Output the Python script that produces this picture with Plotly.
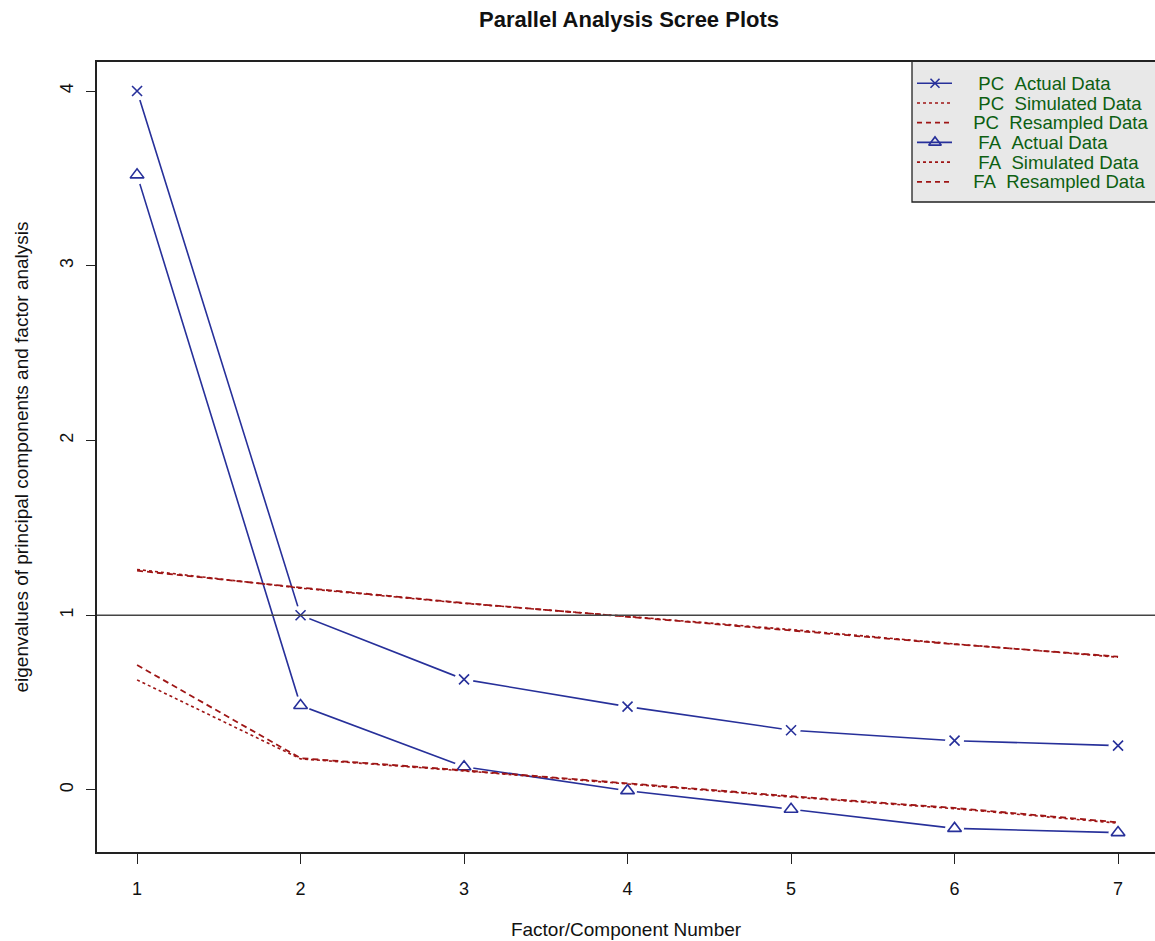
import plotly.graph_objects as go

# Factor / component numbers
factors = [1, 2, 3, 4, 5, 6, 7]

# Eigenvalues of the observed data
pc_actual = [4.00, 1.00, 0.633, 0.477, 0.342, 0.282, 0.254]
fa_actual = [3.52, 0.483, 0.133, -0.004, -0.110, -0.220, -0.244]

# Eigenvalues from simulated and resampled data
pc_simulated = [1.262, 1.155, 1.068, 0.994, 0.918, 0.836, 0.760]
pc_resampled = [1.255, 1.158, 1.070, 0.992, 0.916, 0.834, 0.763]
fa_simulated = [0.630, 0.178, 0.109, 0.036, -0.040, -0.107, -0.190]
fa_resampled = [0.715, 0.182, 0.112, 0.040, -0.036, -0.103, -0.185]

x_ticks = [1, 2, 3, 4, 5, 6, 7]
y_ticks = [0, 1, 2, 3, 4]

legend_labels = ["  PC  Actual Data", "  PC  Simulated Data", " PC  Resampled Data",
                 "  FA  Actual Data", "  FA  Simulated Data", " FA  Resampled Data"]

BLUE = "#27309a"
RED = "#9e1515"
GREEN = "#0d5f12"
FONT = "Liberation Sans, Arial, sans-serif"

# Plot-area geometry (pixels)
W, H = 1155, 941
ML, MR, MT, MB = 97, 0, 62, 89
PW, PH = W - ML - MR, H - MT - MB


def px_x(px):
    return (px - ML) / PW


def px_y(py):
    return (H - MB - py) / PH


fig = go.Figure()

# Observed-data lines, then white halos that open small gaps round each point
for ys in (pc_actual, fa_actual):
    fig.add_trace(go.Scatter(x=factors, y=ys, mode="lines",
                             line=dict(color=BLUE, width=1.6), hoverinfo="skip"))
for ys in (pc_actual, fa_actual):
    fig.add_trace(go.Scatter(x=factors, y=ys, mode="markers",
                             marker=dict(symbol="circle", size=19, color="white", line=dict(width=0)),
                             hoverinfo="skip"))

# Point symbols
fig.add_trace(go.Scatter(x=factors, y=pc_actual, mode="markers",
                         marker=dict(symbol="x-thin-open", size=10, color=BLUE,
                                     line=dict(color=BLUE, width=1.6))))
fig.add_trace(go.Scatter(x=factors, y=fa_actual, mode="markers",
                         marker=dict(symbol="triangle-up-open", size=12, color=BLUE,
                                     line=dict(color=BLUE, width=1.6))))

# Simulated (dotted) and resampled (dashed) eigenvalues
for ys, dash, w in ((pc_simulated, "dot", 1.6), (pc_resampled, "6px,4px", 1.8),
                    (fa_simulated, "dot", 1.6), (fa_resampled, "6px,4px", 1.8)):
    fig.add_trace(go.Scatter(x=factors, y=ys, mode="lines",
                             line=dict(color=RED, width=w, dash=dash)))

# Kaiser criterion reference line at eigenvalue = 1
fig.add_shape(type="line", xref="paper", x0=0, x1=1, yref="y", y0=1, y1=1,
              line=dict(color="#444444", width=1.3), layer="above")

# ---- legend box (top-right) ----
row0, row_step = 83.3, 19.7
fig.add_shape(type="rect", xref="paper", yref="paper",
              x0=px_x(912), x1=px_x(1165), y0=px_y(202), y1=px_y(61),
              fillcolor="#e8e8e8", line=dict(color="#222222", width=1.3), layer="below")

key_styles = [
    (BLUE, "solid", 1.6, "x-thin-open", 9),
    (RED, "dot", 1.6, None, 0),
    (RED, "5px,4px", 1.8, None, 0),
    (BLUE, "solid", 1.6, "triangle-up-open", 11),
    (RED, "dot", 1.6, None, 0),
    (RED, "5px,4px", 1.8, None, 0),
]
for i, (label, (col, dash, lw, sym, msz)) in enumerate(zip(legend_labels, key_styles)):
    yc = px_y(row0 + i * row_step)
    fig.add_shape(type="line", xref="paper", yref="paper",
                  x0=px_x(917), x1=px_x(952), y0=yc, y1=yc,
                  line=dict(color=col, width=lw, dash=dash), layer="below")
    if sym:
        fig.add_trace(go.Scatter(x=[px_x(935)], y=[yc], xaxis="x2", yaxis="y2", mode="markers",
                                 marker=dict(symbol=sym, size=msz, color=col,
                                             line=dict(color=col, width=1.6)),
                                 hoverinfo="skip"))
    fig.add_annotation(xref="paper", yref="paper", x=px_x(966), y=yc,
                       xanchor="left", yanchor="middle", showarrow=False,
                       text=label.replace(" ", "\u00a0"),
                       font=dict(family=FONT, size=18.6, color=GREEN))

tick_font = dict(family=FONT, size=18, color="#111111")
title_font = dict(family=FONT, size=19, color="#111111")

fig.update_layout(
    width=W, height=H,
    margin=dict(l=ML, r=MR, t=MT, b=MB),
    paper_bgcolor="white", plot_bgcolor="white",
    showlegend=False,
    title=dict(text="<b>Parallel Analysis Scree Plots</b>", x=629 / W, xanchor="center",
               y=1 - 19 / H, yanchor="middle",
               font=dict(family=FONT, size=22, color="#111111")),
    xaxis=dict(range=[0.755, 7.226], tickvals=x_ticks, ticktext=[str(v) for v in x_ticks],
               showgrid=False, zeroline=False, showline=True, linecolor="#222222", linewidth=1.5,
               mirror=True, ticks="outside", ticklen=10, tickwidth=1.3, tickcolor="#222222",
               tickfont=tick_font, ticklabelstandoff=10, automargin=False,
               title=dict(text="Factor/Component Number", font=title_font, standoff=24)),
    yaxis=dict(range=[-0.355, 4.166], tickvals=y_ticks, ticktext=[str(v) for v in y_ticks],
               showgrid=False, zeroline=False, showline=True, linecolor="#222222", linewidth=1.5,
               mirror=True, ticks="outside", ticklen=9, tickwidth=1.3, tickcolor="#222222",
               tickangle=-90, tickfont=tick_font, ticklabelstandoff=6, automargin=False,
               title=dict(text="eigenvalues of principal components and factor analysis",
                          font=title_font, standoff=23)),
    xaxis2=dict(overlaying="x", range=[0, 1], visible=False, fixedrange=True),
    yaxis2=dict(overlaying="y", range=[0, 1], visible=False, fixedrange=True),
)

fig.write_html("out.html")
